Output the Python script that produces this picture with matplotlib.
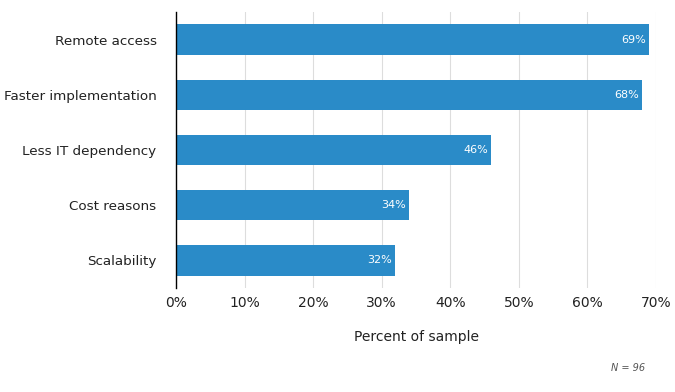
import matplotlib
matplotlib.use("Agg")
import matplotlib.pyplot as plt

categories = ["Remote access", "Faster implementation", "Less IT dependency", "Cost reasons", "Scalability"]
values = [69, 68, 46, 34, 32]
xticks = [0, 10, 20, 30, 40, 50, 60, 70]

BAR_COLOR = "#2a8bc8"

plt.rcParams["font.family"] = ["DejaVu Sans"]

fig = plt.figure(figsize=(6.75, 3.92), dpi=100)
ax = fig.add_axes([176 / 675, 1 - 288 / 392, (656 - 176) / 675, (288 - 12) / 392])

ypos = list(range(len(categories)))[::-1]
ax.barh(ypos, values, height=0.55, color=BAR_COLOR, zorder=2)
for y, v in zip(ypos, values):
    ax.text(v - 0.5, y, f"{v}%", color="white", fontsize=8, ha="right", va="center", zorder=3)

ax.set_xlim(0, 70)
ax.set_ylim(-0.5, len(categories) - 0.5)
ax.set_yticks(ypos)
ax.set_yticklabels(categories, fontsize=9.7, color="#222222")
ax.set_xticks(xticks)
ax.set_xticklabels([f"{t}%" for t in xticks], fontsize=10, color="#222222")
ax.tick_params(axis="y", length=0, pad=14)
ax.tick_params(axis="x", length=0, pad=6)
ax.grid(axis="x", color="#dddddd", linewidth=0.8, zorder=0)
for s in ["top", "right", "bottom"]:
    ax.spines[s].set_visible(False)
ax.spines["left"].set_color("black")
ax.spines["left"].set_linewidth(1)
ax.spines["left"].set_zorder(4)

fig.text(416 / 675, 1 - 337 / 392, "Percent of sample", fontsize=10, color="#222222",
         ha="center", va="center")
fig.text(628 / 675, 1 - 368 / 392, "N = 96", fontsize=7, color="#555555", style="italic",
         ha="center", va="center")

fig.savefig("out.png", dpi=100)
